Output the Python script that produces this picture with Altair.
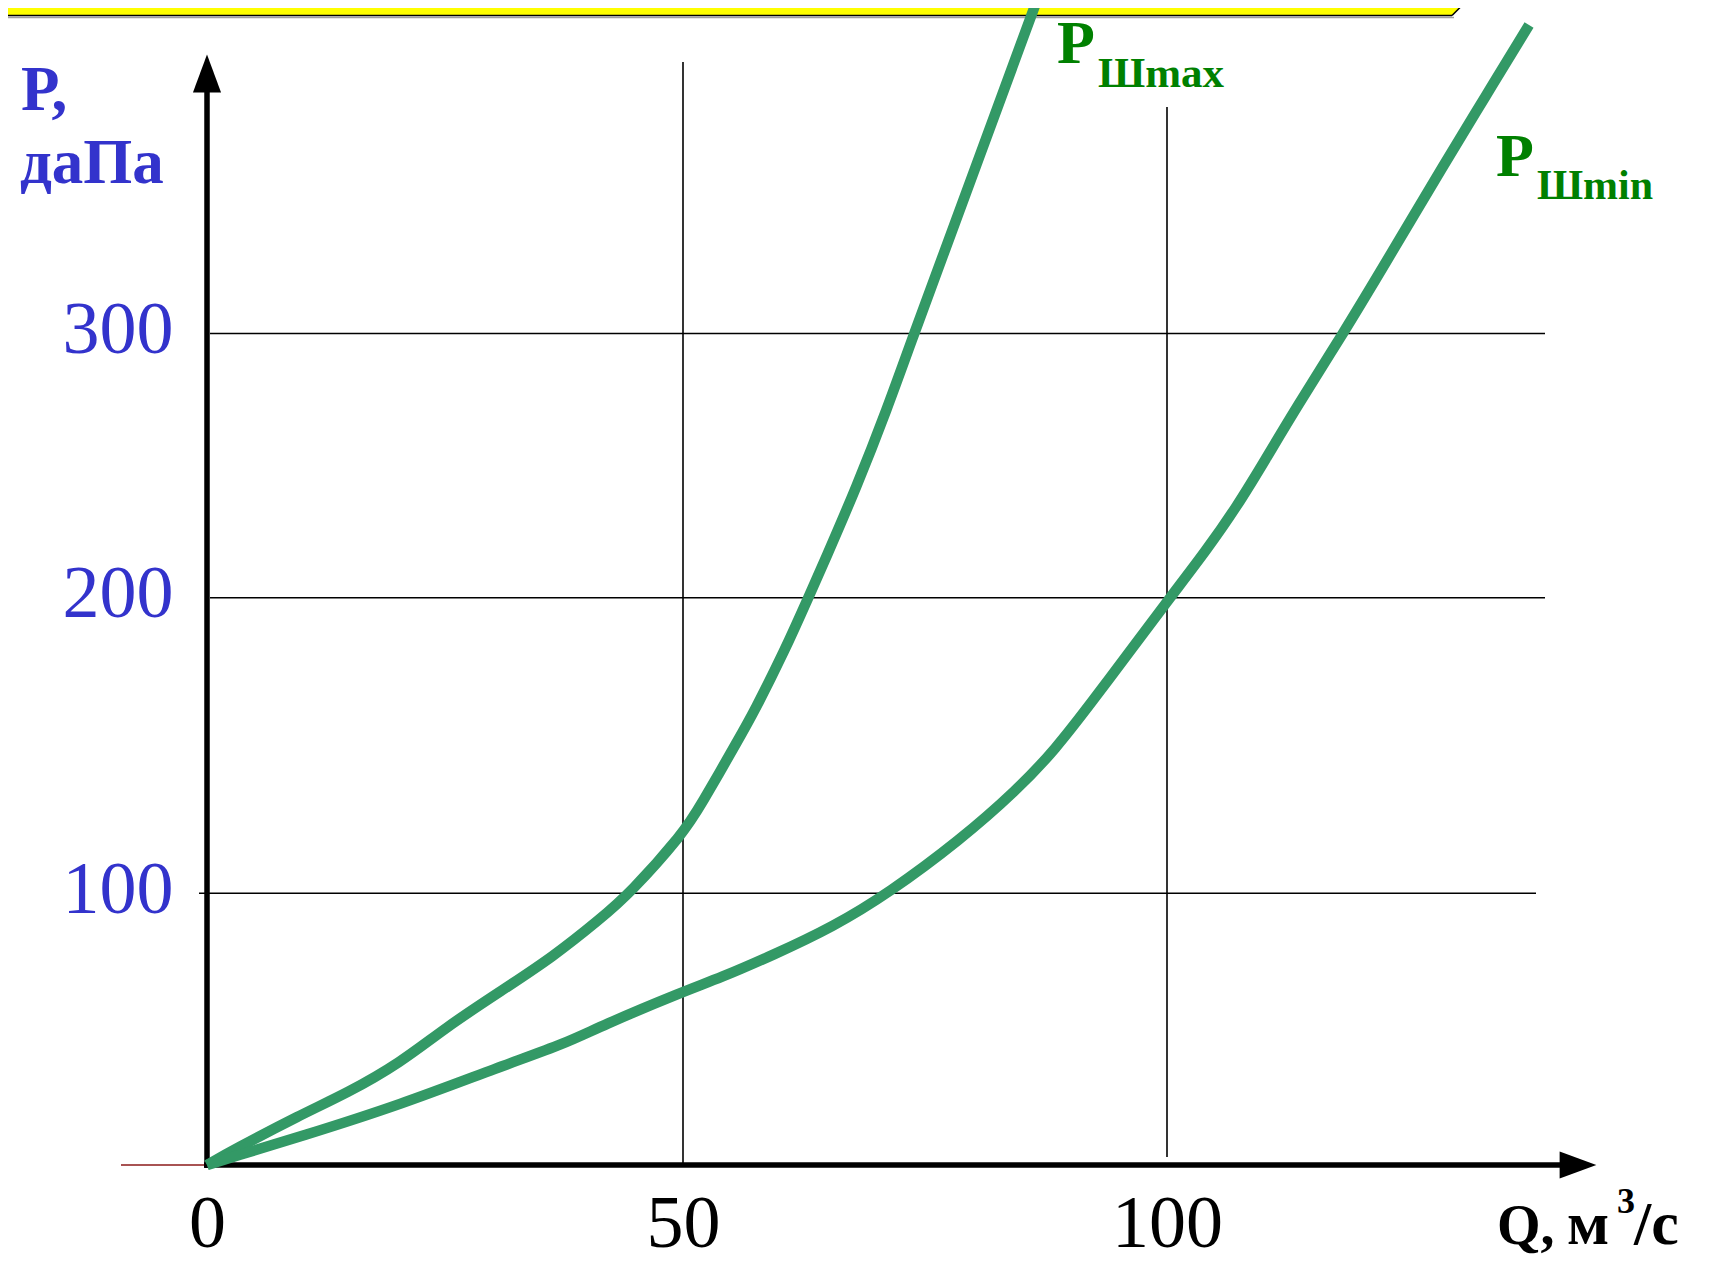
import altair as alt
import pandas as pd

# ---- data (Q in m3/s, P in daPa) ----
q_max = [0, 2.76, 9.77, 14.67, 20.27, 25.18, 30.78, 36.38, 41.28, 44.43, 50.03, 51.76,
         55.89, 57.26, 60.54, 62.94, 64.67, 67.94, 71.04, 73.89, 75.17, 86.57]
p_max = [0, 5.5, 18.4, 26.4, 37.5, 50.9, 63.8, 76.7, 90.5, 100, 120.3, 129.3,
         153.0, 160.9, 182.3, 200, 214.3, 242.0, 271.0, 300.1, 312.7, 426.2]

q_min = [0, 2.76, 9.77, 20.27, 30.78, 37.78, 41.28, 50.0, 53.82, 59.33, 65.53, 71.21,
         78.62, 84.48, 88.43, 92.39, 96.52, 100.31, 104.1, 107.2, 110.12, 113.4,
         118.21, 122.35, 128.89, 132.68, 137.4]
p_min = [0, 3.05, 10.4, 22.1, 36.2, 44.9, 51.0, 63.8, 68.8, 77.3, 87.7, 100,
         118.0, 134.9, 148.5, 165.4, 183.4, 200, 218.1, 234.4, 252.0, 272.2,
         300.1, 325.3, 365.7, 388.4, 416.8]

x_ticks = [0, 50, 100]
y_ticks = [100, 200, 300]
grid_x = [50, 100]
grid_y = [100, 200, 300]

series_max = "Pmax"
series_min = "Pmin"

df = pd.concat([
    pd.DataFrame({"Q": q_max, "P": p_max, "s": series_max}),
    pd.DataFrame({"Q": q_min, "P": p_min, "s": series_min}),
])

# hand-drawn axes of the slide: piecewise-linear scales
xs = alt.Scale(domain=[0, 50, 100, 150], range=[0, 476, 960, 1444], nice=False, zero=False)
ys = alt.Scale(domain=[0, 100, 200, 300, 400], range=[1157, 885.3, 589.7, 325.5, 61.3],
               nice=False, zero=False)

SERIF = "Liberation Serif"
BLUE = "#3333CC"
GREEN_TXT = "#008000"
GREEN_LINE = "#339966"

x_axis = alt.Axis(
    values=x_ticks, title=None, domain=False, ticks=False, tickSize=0, grid=False,
    labelFont=SERIF, labelFontSize=74, labelColor="black", labelPadding=23,
    labelOverlap=False, labelFlush=False, labelBound=False)
y_axis = alt.Axis(
    values=y_ticks, title=None, domain=False, ticks=False, tickSize=0, grid=False,
    labelFont=SERIF, labelFontSize=74, labelColor=BLUE, labelPadding=34,
    labelOffset=-3, labelOverlap=False, labelFlush=False, labelBound=False)

one = pd.DataFrame({"a": [0]})


def txt(s, x, y, size, color, bold=True, align="left"):
    return alt.Chart(one).mark_text(
        align=align, baseline="alphabetic", font=SERIF, fontSize=size,
        fontWeight="bold" if bold else "normal", color=color
    ).encode(x=alt.value(x), y=alt.value(y), text=alt.value(s))


def rule(x, x2, y, y2, color="black", w=1.6):
    return alt.Chart(one).mark_rule(color=color, strokeWidth=w).encode(
        x=alt.value(x), x2=alt.value(x2), y=alt.value(y), y2=alt.value(y2))


# yellow banner at the top
banner = alt.Chart(one).mark_rect(color="#FFFF00").encode(
    x=alt.value(-215), x2=alt.value(1245), y=alt.value(-10), y2=alt.value(7))
banner_tip = alt.Chart(one).mark_point(
    shape="M-1,0.94L-1,-0.94L1,-0.94Z", filled=True, color="#FFFF00", opacity=1, size=256
).encode(x=alt.value(1253), y=alt.value(-0.5))
banner_shadow = rule(-215, 1247, 9.5, 9.5, color="#A0A0A0", w=1.5)
banner_line = rule(-215, 1245, 7.5, 7.5, color="black", w=1.5)
banner_slant = rule(1245, 1262, 7.5, -9.5, color="black", w=1.5)

# grid lines
gy_base = alt.Chart(pd.DataFrame({"v": grid_y}))
grid_h_upper = gy_base.transform_filter(alt.datum.v > 150).mark_rule(
    color="black", strokeWidth=1.6).encode(
    y=alt.Y("v:Q", scale=ys, axis=y_axis), x=alt.value(3), x2=alt.value(1338))
grid_h_low = gy_base.transform_filter(alt.datum.v < 150).mark_rule(
    color="black", strokeWidth=1.6).encode(
    y=alt.Y("v:Q", scale=ys, axis=y_axis), x=alt.value(-8), x2=alt.value(1329))

gx_base = alt.Chart(pd.DataFrame({"v": grid_x}))
grid_v50 = gx_base.transform_filter(alt.datum.v < 75).mark_rule(
    color="black", strokeWidth=1.6).encode(
    x=alt.X("v:Q", scale=xs, axis=x_axis), y=alt.value(54), y2=alt.value(1157))
grid_v100 = gx_base.transform_filter(alt.datum.v > 75).mark_rule(
    color="black", strokeWidth=1.6).encode(
    x=alt.X("v:Q", scale=xs, axis=x_axis), y=alt.value(99), y2=alt.value(1149))

# axes with arrows
red_line = rule(-86, -1, 1157, 1157, color="#8B1A1A", w=1.5)
y_axis_line = rule(0, 0, 1160, 84, color="black", w=5.5)
x_axis_line = rule(-3, 1353, 1157, 1157, color="black", w=5.5)
y_arrow = alt.Chart(one).mark_point(
    shape="M0,-1L0.74,1L-0.74,1Z", filled=True, color="black", opacity=1, size=1444
).encode(x=alt.value(0), y=alt.value(65.5))
x_arrow = alt.Chart(one).mark_point(
    shape="M1,0L-1,-0.73L-1,0.73Z", filled=True, color="black", opacity=1, size=1347
).encode(x=alt.value(1371), y=alt.value(1157))

# curves
curves = alt.Chart(df).mark_line(
    color=GREEN_LINE, strokeWidth=10.5, interpolate="basis"
).encode(
    x=alt.X("Q:Q", scale=xs, axis=x_axis),
    y=alt.Y("P:Q", scale=ys, axis=y_axis),
    detail="s:N",
)

# texts
y_title1 = txt("Р,", -186, 102, 63, BLUE)
y_title2 = txt("даПа", -187, 175, 63, BLUE)
lab_max_p = txt("P", 850, 55, 62, GREEN_TXT)
lab_max_s = txt("Шmax", 891, 79, 43, GREEN_TXT)
lab_min_p = txt("P", 1289, 168, 62, GREEN_TXT)
lab_min_s = txt("Шmin", 1330, 191, 42, GREEN_TXT)
xt_q = txt("Q,", 1290, 1236, 56, "black")
xt_m = txt("м", 1360, 1236, 62, "black")
xt_3 = txt("3", 1410, 1205, 36, "black")
xt_c = txt("/с", 1427, 1236, 62, "black")

chart = alt.layer(
    banner, banner_tip, banner_shadow, banner_line, banner_slant,
    grid_h_upper, grid_h_low, grid_v50, grid_v100,
    red_line, y_axis_line, x_axis_line, y_arrow, x_arrow,
    curves,
    y_title1, y_title2, lab_max_p, lab_max_s, lab_min_p, lab_min_s,
    xt_q, xt_m, xt_3, xt_c,
).properties(
    width=1480, height=1157,
    padding={"left": 199, "top": 0, "right": 0, "bottom": 102},
    autosize=alt.AutoSizeParams(type="none"),
    background="white",
).configure_view(stroke=None)

chart.save("out.html", embed_options={"renderer": "svg", "actions": False})
